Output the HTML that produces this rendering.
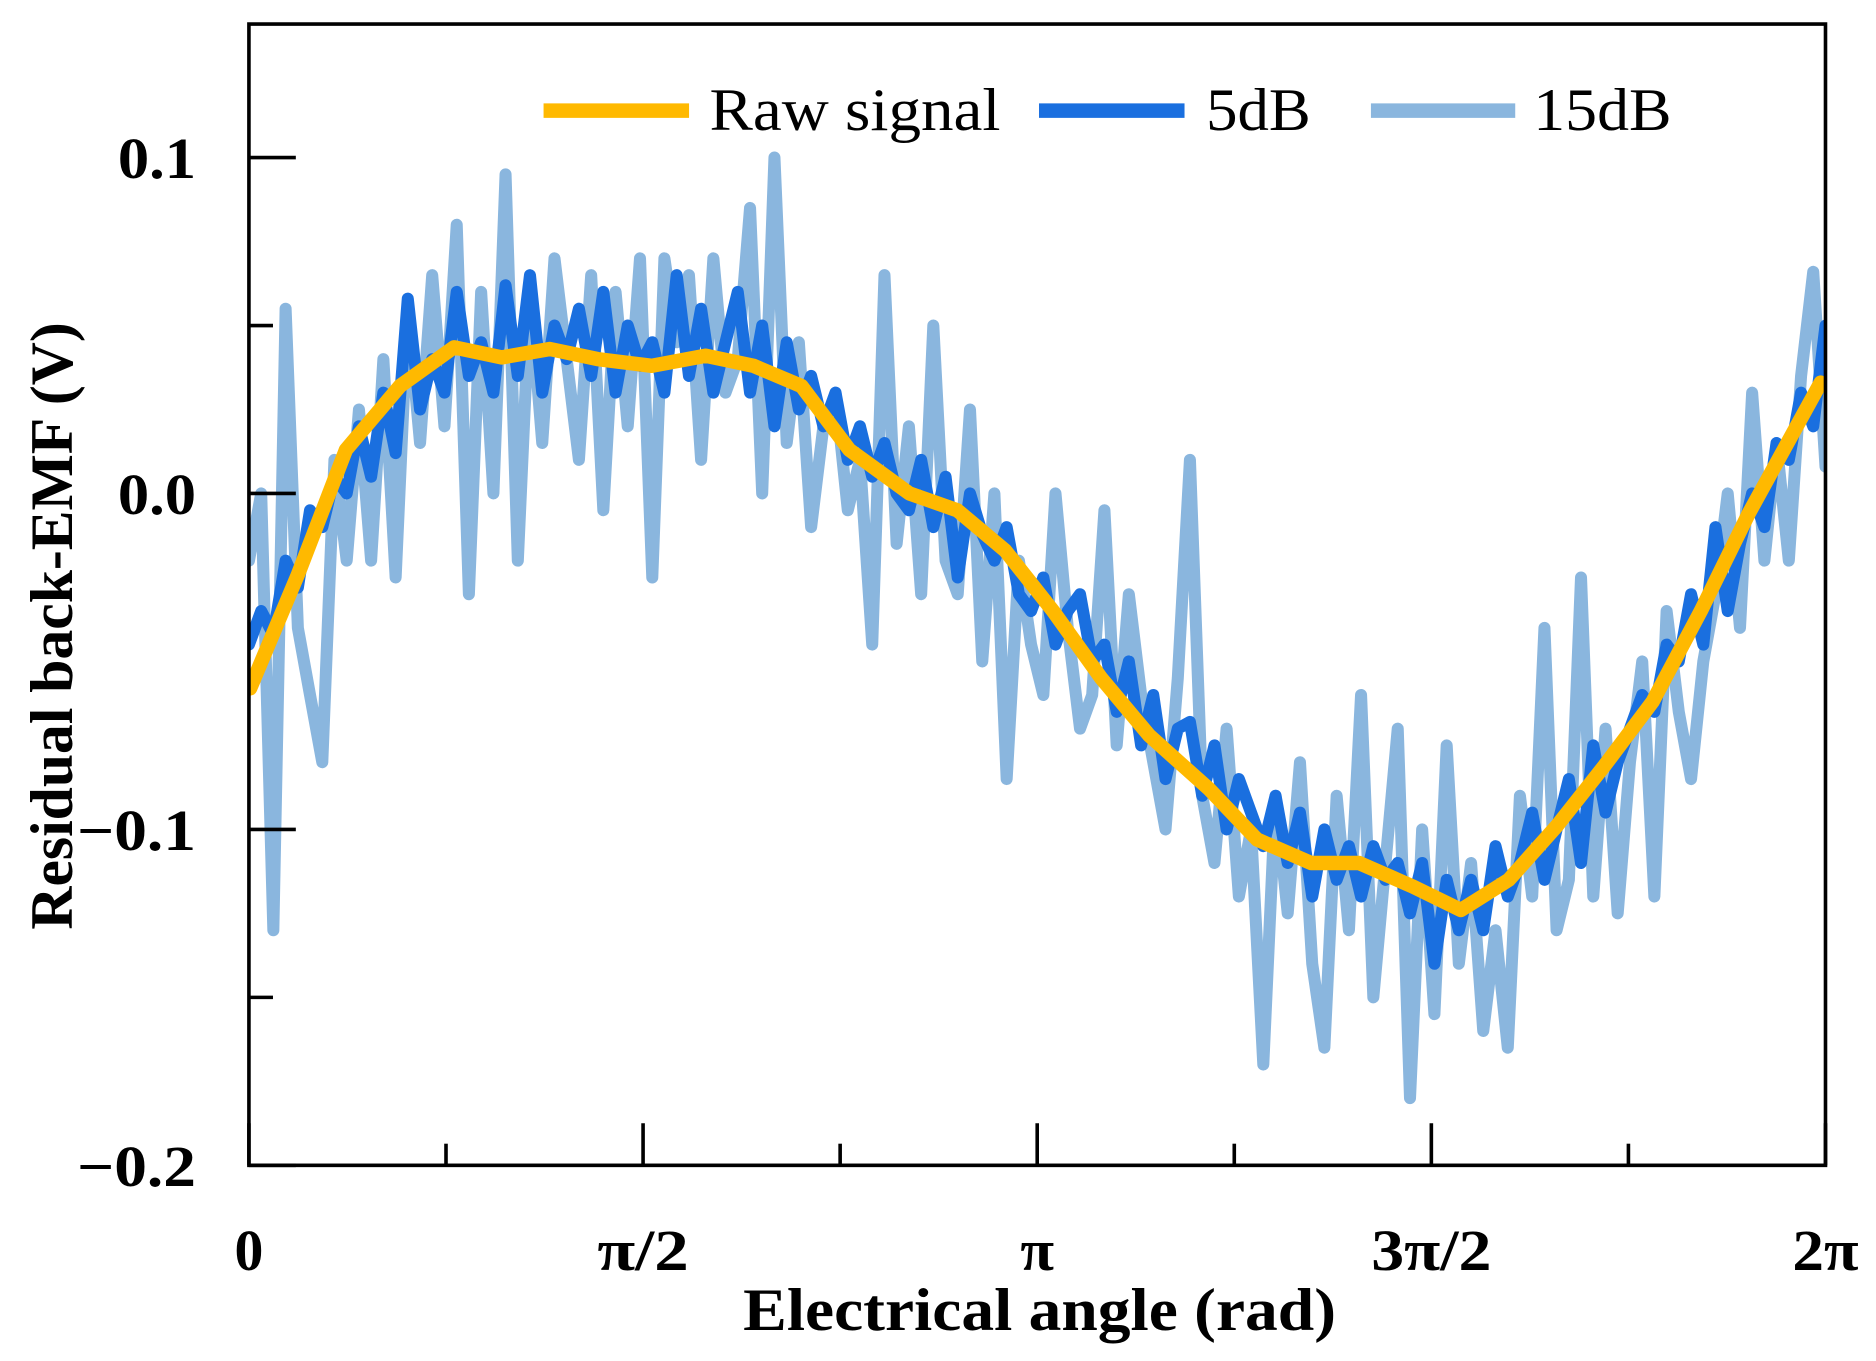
<!DOCTYPE html>
<html><head><meta charset="utf-8"><style>
html,body{margin:0;padding:0;background:#fff}
svg{display:block}
text{font-family:"Liberation Serif",serif;fill:#000}
</style></head><body>
<svg id="chart" width="1876" height="1361" viewBox="0 0 1560 1131.7" preserveAspectRatio="none" xmlns="http://www.w3.org/2000/svg">
<defs><clipPath id="pc"><rect x="207" y="20" width="1311" height="949"/></clipPath></defs>
<g id="series" clip-path="url(#pc)"></g>
<rect x="207" y="20" width="1311" height="949" fill="none" stroke="#000" stroke-width="3"/>
<g id="ticks"></g>
<g>
<line x1="452" y1="92" x2="573" y2="92" stroke="#FFB900" stroke-width="12"/>
<text x="590" y="108" font-size="50" textLength="242" lengthAdjust="spacingAndGlyphs">Raw signal</text>
<line x1="864" y1="92" x2="985" y2="92" stroke="#1A6FDF" stroke-width="12"/>
<text x="1003" y="108" font-size="50" textLength="87" lengthAdjust="spacingAndGlyphs">5dB</text>
<line x1="1140" y1="92" x2="1260" y2="92" stroke="#8AB6DE" stroke-width="12"/>
<text x="1275" y="108" font-size="50" textLength="115" lengthAdjust="spacingAndGlyphs">15dB</text>
</g>
<text x="618" y="1106" font-size="50" font-weight="bold" textLength="493" lengthAdjust="spacingAndGlyphs">Electrical angle (rad)</text>
<text transform="translate(60,773) rotate(-90)" font-size="50" font-weight="bold" textLength="505" lengthAdjust="spacingAndGlyphs">Residual back-EMF (V)</text>
</svg>
<script>
const rawX=[0.0048,0.196,0.387,0.602,0.817,1.008,1.199,1.390,1.605,1.820,2.011,2.202,2.393,2.632,2.823,3.014,3.205,3.397,3.588,3.827,4.018,4.233,4.424,4.639,4.830,5.021,5.212,5.403,5.594,5.786,5.977,6.264];
const rawY=[-0.058,-0.024,0.013,0.032,0.0435,0.0405,0.043,0.040,0.038,0.041,0.038,0.032,0.013,0.0,-0.005,-0.017,-0.035,-0.055,-0.072,-0.088,-0.103,-0.110,-0.110,-0.117,-0.124,-0.115,-0.099,-0.081,-0.062,-0.035,-0.006,0.033];
const db5=[-0.045,-0.035,-0.042,-0.02,-0.028,-0.005,-0.01,0.005,0.0,0.02,
0.005,0.03,0.012,0.058,0.025,0.04,0.03,0.06,0.035,0.045,
0.03,0.062,0.035,0.065,0.03,0.05,0.04,0.055,0.035,0.06,
0.03,0.05,0.038,0.045,0.03,0.065,0.035,0.055,0.03,0.045,
0.06,0.03,0.05,0.02,0.045,0.025,0.035,0.02,0.03,0.01,
0.02,0.005,0.015,0.0,-0.005,0.01,-0.01,0.005,-0.025,0.0,
-0.012,-0.02,-0.01,-0.03,-0.035,-0.025,-0.045,-0.035,-0.03,-0.05,
-0.045,-0.065,-0.05,-0.075,-0.06,-0.085,-0.07,-0.068,-0.09,-0.075,
-0.1,-0.085,-0.095,-0.105,-0.09,-0.11,-0.095,-0.12,-0.1,-0.115,
-0.105,-0.12,-0.105,-0.115,-0.11,-0.125,-0.11,-0.14,-0.115,-0.13,
-0.115,-0.13,-0.105,-0.12,-0.11,-0.095,-0.115,-0.1,-0.085,-0.11,
-0.075,-0.095,-0.08,-0.07,-0.06,-0.065,-0.045,-0.05,-0.03,-0.045,
-0.01,-0.035,-0.015,0.0,-0.01,0.015,0.01,0.03,0.02,0.05];
const db15=[-0.02,0.0,-0.13,0.055,-0.04,-0.06,-0.08,0.01,-0.02,0.025,
-0.02,0.04,-0.025,0.055,0.015,0.065,0.02,0.08,-0.03,0.06,
0.0,0.095,-0.02,0.06,0.015,0.07,0.04,0.01,0.065,-0.005,
0.06,0.02,0.07,-0.025,0.07,0.045,0.065,0.01,0.07,0.03,
0.04,0.085,0.0,0.1,0.015,0.045,-0.01,0.02,0.03,-0.005,
0.01,-0.045,0.065,-0.015,0.02,-0.03,0.05,-0.02,-0.03,0.025,
-0.05,0.0,-0.085,-0.02,-0.045,-0.06,0.0,-0.04,-0.07,-0.06,
-0.005,-0.075,-0.03,-0.06,-0.08,-0.1,-0.055,0.01,-0.09,-0.11,
-0.07,-0.12,-0.1,-0.17,-0.09,-0.125,-0.08,-0.14,-0.165,-0.09,
-0.13,-0.06,-0.15,-0.11,-0.07,-0.18,-0.1,-0.155,-0.075,-0.14,
-0.11,-0.16,-0.13,-0.165,-0.09,-0.12,-0.04,-0.13,-0.115,-0.025,
-0.12,-0.07,-0.125,-0.08,-0.05,-0.12,-0.035,-0.065,-0.085,-0.05,
-0.03,0.0,-0.04,0.03,-0.02,0.015,-0.02,0.035,0.066,0.008];
const yTickVals=[0.1,0.0,-0.1,-0.2];
const yTickLabels=["0.1","0.0","\u22120.1","\u22120.2"];
const yLabelWidths=[65,65,99,99];
const yMinorVals=[0.05,-0.15];
const xTickVals=[0,Math.PI/2,Math.PI,1.5*Math.PI,2*Math.PI];
const xTickLabels=["0","\u03c0/2","\u03c0","3\u03c0/2","2\u03c0"];
const xLabelWidths=[24,76,28,100,55];
const xMinorVals=[Math.PI/4,3*Math.PI/4,5*Math.PI/4,7*Math.PI/4];

const X0=207,X1=1518,Y0=969,Y1=20,XMAX=2*Math.PI,YMIN=-0.2,YMAX=0.1+111/2793;
const sx=v=>X0+(v/XMAX)*(X1-X0);
const sy=v=>Y0-(v-YMIN)/(YMAX-YMIN)*(Y0-Y1);
const NS="http://www.w3.org/2000/svg";
const ser=document.getElementById('series');
const tk=document.getElementById('ticks');
function line(xs,ys,color,w,name){
  const p=document.createElementNS(NS,'polyline');
  p.setAttribute('points',ys.map((y,i)=>sx(xs[i]).toFixed(1)+','+sy(y).toFixed(1)).join(' '));
  p.setAttribute('fill','none');p.setAttribute('stroke',color);p.setAttribute('stroke-width',w);
  p.setAttribute('stroke-linejoin','round');p.setAttribute('stroke-linecap','round');
  
  
  ser.appendChild(p);
}
const ix=a=>a.map((_,i)=>i/(a.length-1)*XMAX);
line(ix(db15),db15,'#8AB6DE',10,'series-15db');
line(ix(db5),db5,'#1A6FDF',10,'series-5db');
line(rawX,rawY,'#FFB900',12,'series-raw-signal');
function mk(tag,attrs,name,txt){
  const e=document.createElementNS(NS,tag);
  for(const k in attrs)e.setAttribute(k,attrs[k]);
  if(txt!==undefined)e.textContent=txt;
  
  
  tk.appendChild(e);
}
yTickVals.forEach((v,i)=>{
  mk('line',{x1:X0,x2:X0+39,y1:sy(v),y2:sy(v),stroke:'#000','stroke-width':3},'y-tick');
  mk('text',{x:163-yLabelWidths[i],y:sy(v)+17,'font-size':48,'font-weight':'bold',textLength:yLabelWidths[i],lengthAdjust:'spacingAndGlyphs'},'y-tick-label',yTickLabels[i]);
});
yMinorVals.forEach(v=>mk('line',{x1:X0,x2:X0+20,y1:sy(v),y2:sy(v),stroke:'#000','stroke-width':3},'y-minor-tick'));
xTickVals.forEach((v,i)=>{
  mk('line',{x1:sx(v),x2:sx(v),y1:Y0,y2:Y0-35,stroke:'#000','stroke-width':3},'x-tick');
  mk('text',{x:sx(v)-xLabelWidths[i]/2,y:1056,'font-size':48,'font-weight':'bold',textLength:xLabelWidths[i],lengthAdjust:'spacingAndGlyphs'},'x-tick-label',xTickLabels[i]);
});
xMinorVals.forEach(v=>mk('line',{x1:sx(v),x2:sx(v),y1:Y0,y2:Y0-18,stroke:'#000','stroke-width':3},'x-minor-tick'));
</script>
</body></html>
